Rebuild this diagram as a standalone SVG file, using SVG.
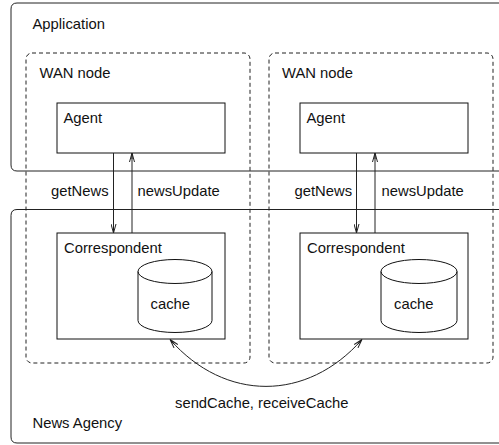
<svg xmlns="http://www.w3.org/2000/svg" width="499" height="445" viewBox="0 0 499 445">
<style>
text{font-family:"Liberation Sans",Arial,sans-serif;font-size:14.8px;fill:#111}
.frame{fill:none;stroke:#222;stroke-width:1}
.dash{fill:none;stroke:#222;stroke-width:1;stroke-dasharray:4,3}
.box{fill:#fff;stroke:#111;stroke-width:1}
.conn{fill:none;stroke:#222;stroke-width:1}
</style>
<defs>
<marker id="arr" viewBox="0 0 9 6" refX="9" refY="3" markerWidth="9" markerHeight="6" markerUnits="userSpaceOnUse" orient="auto-start-reverse">
<path d="M0,0.5 L9,3 L0,5.5 M3,3 L9,3" fill="none" stroke="#222" stroke-width="1"/>
</marker>
</defs>
<g id="application">
<path class="frame" d="M499,3 H17 Q11,3 11,9 V165 Q11,171 17,171 H499"/>
<text x="32.5" y="29">Application</text>
</g>
<g id="news-agency">
<path class="frame" d="M499,209.5 H17 Q11,209.5 11,215.5 V437 Q11,443 17,443 H499"/>
<text x="32.5" y="428">News Agency</text>
</g>
<g id="wan-left">
<rect class="dash" x="26" y="53" width="224" height="310" rx="6"/>
<text x="39.5" y="77.5">WAN node</text>
</g>
<g id="wan-right">
<rect class="dash" x="269" y="53" width="224" height="310" rx="6"/>
<text x="282" y="77.5">WAN node</text>
</g>
<g id="agent-left">
<rect class="box" x="57" y="103" width="168" height="50"/>
<text x="63.5" y="122.5">Agent</text>
</g>
<g id="agent-right">
<rect class="box" x="300" y="103" width="168" height="50"/>
<text x="306.5" y="122.5">Agent</text>
</g>
<g id="correspondent-left">
<rect class="box" x="57" y="233" width="168" height="106"/>
<text x="64" y="252.5">Correspondent</text>
<path class="box" d="M138,271.5 V320.5 A37,12 0 0 0 212,320.5 V271.5 A37,12 0 0 0 138,271.5 A37,12 0 0 0 212,271.5"/>
<text x="150.5" y="309">cache</text>
</g>
<g id="correspondent-right">
<rect class="box" x="300" y="233" width="168" height="106"/>
<text x="307" y="252.5">Correspondent</text>
<path class="box" d="M381,271.5 V320.5 A38,12 0 0 0 457,320.5 V271.5 A38,12 0 0 0 381,271.5 A38,12 0 0 0 457,271.5"/>
<text x="394" y="309">cache</text>
</g>
<g id="connectors">
<line class="conn" x1="113.5" y1="153" x2="113.5" y2="233" marker-end="url(#arr)"/>
<line class="conn" x1="132" y1="233" x2="132" y2="153" marker-end="url(#arr)"/>
<line class="conn" x1="356.5" y1="153" x2="356.5" y2="233" marker-end="url(#arr)"/>
<line class="conn" x1="375" y1="233" x2="375" y2="153" marker-end="url(#arr)"/>
<path class="conn" d="M170,339.5 C225,402 307,402 362,339.5" marker-start="url(#arr)" marker-end="url(#arr)"/>
<text x="51" y="195.5">getNews</text>
<text x="137.5" y="195.5">newsUpdate</text>
<text x="294.5" y="195.5">getNews</text>
<text x="381.5" y="195.5">newsUpdate</text>
<text x="175" y="408">sendCache, receiveCache</text>
</g>
</svg>
